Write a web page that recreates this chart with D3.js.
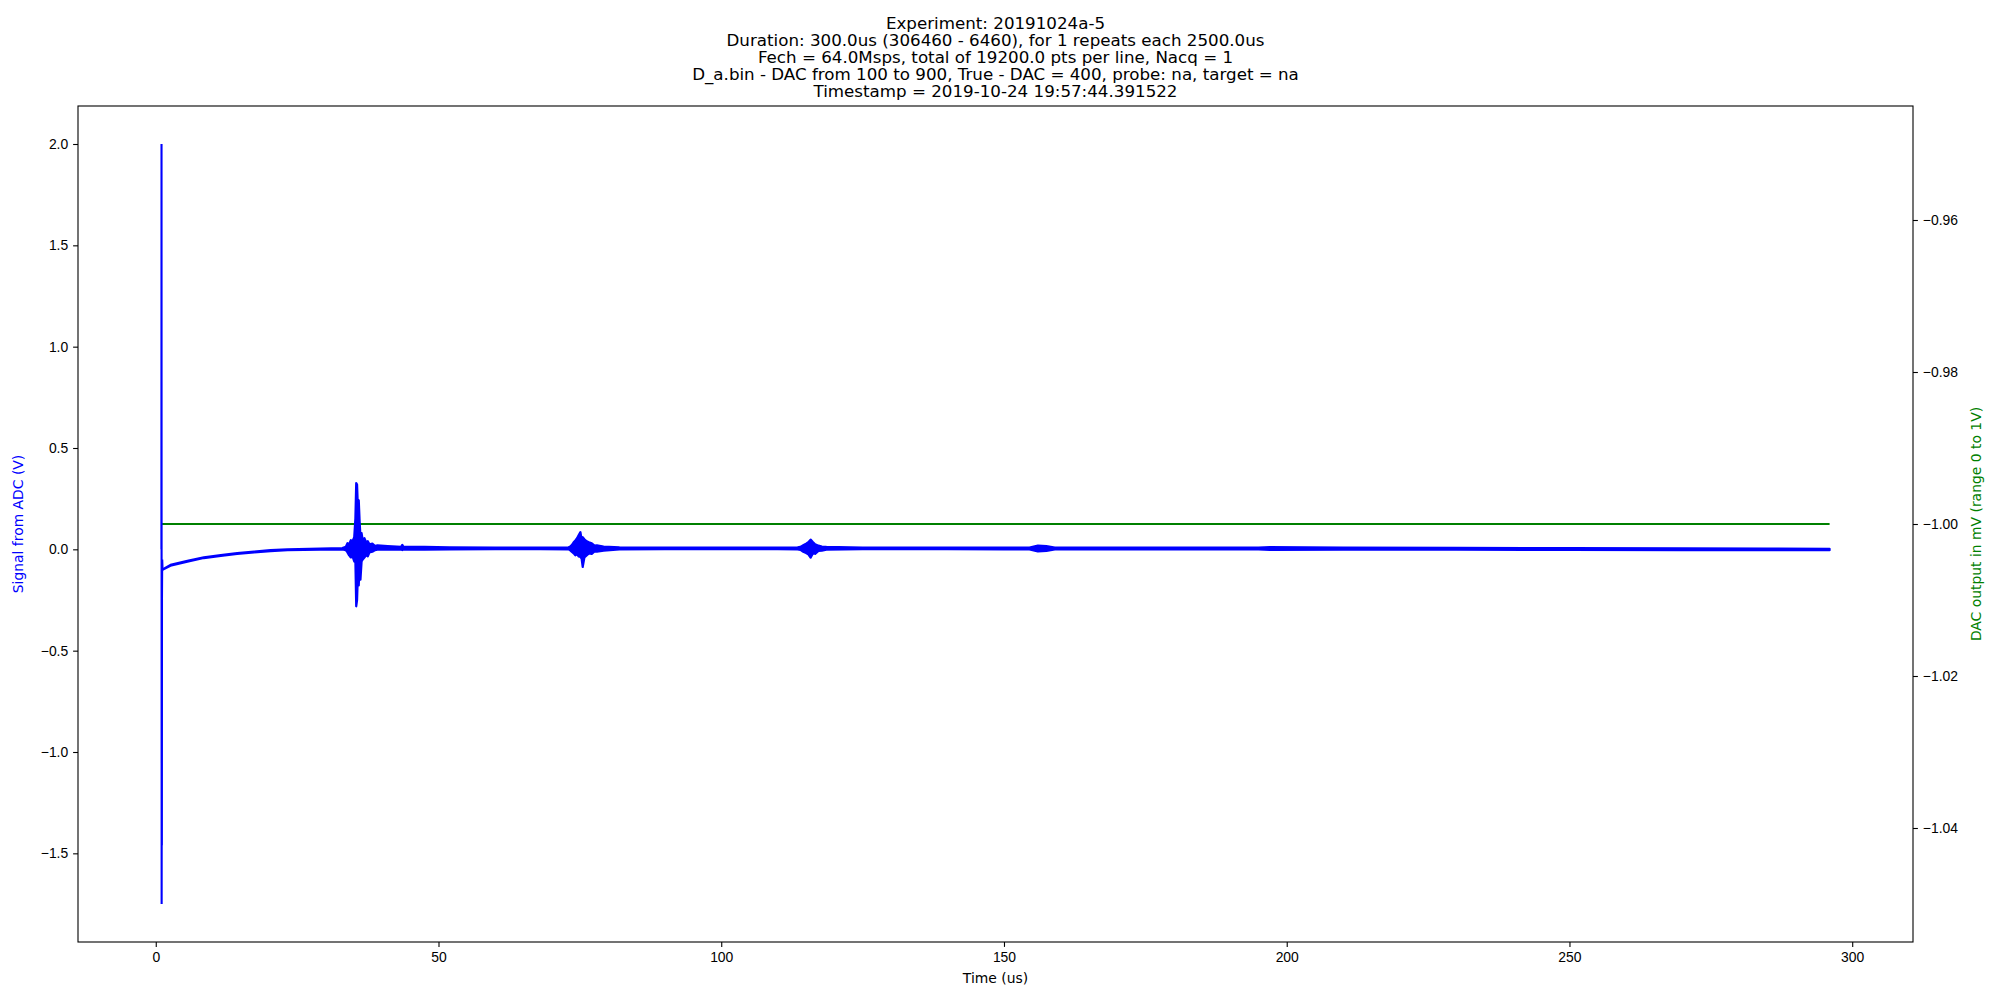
<!DOCTYPE html>
<meta charset="utf-8">
<head>
<style>
    body {
      margin: 0;
      background: #fff;
    }
    svg {
      font-family: 'DejaVu Sans', sans-serif;
      display: block;
    }
    .axis path, .axis line {
      stroke: #000;
      stroke-width: 1.1px;
    }
    .axis text {
      font-size: 13.9px;
      fill: #000;
    }
</style>
</head>
<body>
<svg width="2000" height="1000"></svg>
<script src="https://d3js.org/d3.v7.min.js"></script>
<script>

// title, one entry per line
var titleLines = [
  "Experiment: 20191024a-5",
  "Duration: 300.0us (306460 - 6460), for 1 repeats each 2500.0us",
  "Fech = 64.0Msps, total of 19200.0 pts per line, Nacq = 1",
  "D_a.bin - DAC from 100 to 900, True - DAC = 400, probe: na, target = na",
  "Timestamp = 2019-10-24 19:57:44.391522"
];

var xTicks = [0, 50, 100, 150, 200, 250, 300];
var yTicks = [-1.5, -1.0, -0.5, 0.0, 0.5, 1.0, 1.5, 2.0];
var dacTicks = [-1.04, -1.02, -1.00, -0.98, -0.96];

// the first ringing of the ADC signal, right at t ~ 1us
var spikeT = [1.00, 1.02, 1.04, 1.06, 1.08, 1.10, 1.14, 1.20];
var spikeV = [0.00, 2.00, -1.75, -1.02, -1.46, -0.24, -0.05, -0.10];

// rest of the trace, read as a min / max envelope (the trace is too dense to see single points)
var sigT  = [1.2, 2.6, 5.6, 8.5, 11.5, 14.4, 17.4, 20.3, 23.3, 29.1, 33.0,
             33.6, 33.9, 34.2, 34.5, 34.8, 35.1, 35.3, 35.45, 35.6, 35.75, 35.9, 36.05, 36.2,
             36.4, 36.6, 36.9, 37.2, 37.5, 37.8, 38.3, 38.8, 39.2,
             41.0, 43.4, 43.6, 43.8, 47.5, 52, 60, 68,
             73.0, 73.3, 73.6, 73.9, 74.2, 74.5, 74.8, 75.1, 75.3, 75.5, 75.8, 76.2, 76.6,
             77.1, 77.6, 78.0, 79.2,
             82, 90, 100, 110,
             113.5, 114.0, 114.5, 115.0, 115.4, 115.8, 116.2, 116.6, 117.2, 117.8, 118.6,
             125, 140, 150, 154.5, 156, 157.5, 159, 170, 185, 195, 197,
             210, 230, 250, 270, 285, 296];
var sigLo = [-0.101, -0.081, -0.061, -0.043, -0.032, -0.023, -0.015, -0.009, -0.004, -0.001, 0.000,
             -0.004, -0.015, -0.030, -0.040, -0.035, -0.060, -0.055, -0.281, -0.250, -0.120, -0.178, -0.060, -0.150,
             -0.060, -0.050, -0.040, -0.030, -0.035, -0.015, -0.012, -0.004, -0.002,
             -0.002, -0.001, -0.004, -0.001, -0.001, 0.000, 0.001, 0.001,
             0.000, -0.005, -0.013, -0.020, -0.030, -0.025, -0.035, -0.038, -0.045, -0.087, -0.040, -0.030, -0.020,
             -0.022, -0.010, -0.012, -0.006,
             0.000, 0.001, 0.001, 0.001,
             0.000, -0.003, -0.012, -0.018, -0.025, -0.041, -0.020, -0.022, -0.008, -0.006, -0.002,
             0.001, 0.001, 0.000, 0.000, -0.010, -0.008, 0.000, 0.000, 0.000, 0.000, -0.003,
             -0.001, -0.002, -0.003, -0.004, -0.004, -0.004];
var sigHi = [-0.099, -0.077, -0.057, -0.039, -0.028, -0.019, -0.011, -0.004, 0.000, 0.004, 0.006,
             0.012, 0.030, 0.025, 0.045, 0.040, 0.060, 0.150, 0.327, 0.320, 0.200, 0.242, 0.140, 0.060,
             0.080, 0.045, 0.055, 0.035, 0.040, 0.025, 0.028, 0.016, 0.020,
             0.016, 0.012, 0.022, 0.012, 0.012, 0.010, 0.009, 0.009,
             0.010, 0.014, 0.022, 0.035, 0.044, 0.055, 0.070, 0.085, 0.050, 0.060, 0.050, 0.040, 0.035,
             0.030, 0.018, 0.020, 0.014,
             0.010, 0.009, 0.009, 0.009,
             0.010, 0.012, 0.020, 0.028, 0.035, 0.048, 0.036, 0.025, 0.018, 0.014, 0.012,
             0.008, 0.008, 0.008, 0.009, 0.018, 0.016, 0.009, 0.008, 0.008, 0.008, 0.011,
             0.008, 0.007, 0.006, 0.005, 0.004, 0.003];

// DAC output (right axis), constant
var dacT = [1.0, 296.0];
var dacV = [-1.0, -1.0];

var svg = d3.select('svg'),
    plotL = 78, plotR = 1913, plotT = 106, plotB = 942;

var x = d3.scaleLinear().domain([-13.75, 310.75]).range([plotL, plotR]);
var y = d3.scaleLinear().domain([-1.9375, 2.1875]).range([plotB, plotT]);
var y2 = d3.scaleLinear().domain([-1.055, -0.945]).range([plotB, plotT]);

var minus = function(s) { return s.replace('-', '\u2212'); };

// traces
var plot = svg.append('g');

var sig = sigT.map(function(t, i) { return {t: t, lo: sigLo[i], hi: sigHi[i]}; });

// DAC line sits under the ADC trace
plot.append('path')
  .datum(dacT.map(function(t, i) { return [t, dacV[i]]; }))
  .attr('fill', 'none')
  .attr('stroke', '#008000')
  .attr('stroke-width', 2.1)
  .attr('d', d3.line().x(d => x(d[0])).y(d => y2(d[1])));

plot.append('path')
  .datum(sig)
  .attr('fill', '#0000ff')
  .attr('stroke', '#0000ff')
  .attr('stroke-width', 2.2)
  .attr('stroke-linejoin', 'round')
  .attr('d', d3.area().x(d => x(d.t)).y0(d => y(d.lo)).y1(d => y(d.hi)));

plot.append('path')
  .datum(spikeT.map(function(t, i) { return [t, spikeV[i]]; }))
  .attr('fill', 'none')
  .attr('stroke', '#0000ff')
  .attr('stroke-width', 2.1)
  .attr('d', d3.line().x(d => x(d[0])).y(d => y(d[1])));

// axes
svg.append('g')
  .attr('class', 'axis')
  .attr('transform', 'translate(0,' + plotB + ')')
  .call(d3.axisBottom(x).tickValues(xTicks).tickSize(4.9).tickPadding(4.9).tickSizeOuter(0)
        .tickFormat(d3.format('d')));

svg.append('g')
  .attr('class', 'axis')
  .attr('transform', 'translate(' + plotL + ',0)')
  .call(d3.axisLeft(y).tickValues(yTicks).tickSize(4.9).tickPadding(4.9).tickSizeOuter(0)
        .tickFormat(d => minus(d3.format('.1f')(d))));

svg.append('g')
  .attr('class', 'axis')
  .attr('transform', 'translate(' + plotR + ',0)')
  .call(d3.axisRight(y2).tickValues(dacTicks).tickSize(4.9).tickPadding(4.9).tickSizeOuter(0)
        .tickFormat(d => minus(d3.format('.2f')(d))));

svg.selectAll('.axis .domain').remove();

// frame
svg.append('rect')
  .attr('x', plotL).attr('y', plotT)
  .attr('width', plotR - plotL).attr('height', plotB - plotT)
  .attr('fill', 'none')
  .attr('stroke', '#000')
  .attr('stroke-width', 1.1);

// labels
svg.append('text')
  .attr('x', (plotL + plotR) / 2).attr('y', 983)
  .attr('text-anchor', 'middle')
  .style('font-size', '13.9px')
  .text('Time (us)');

svg.append('text')
  .attr('transform', 'translate(23,' + (plotT + plotB) / 2 + ') rotate(-90)')
  .attr('text-anchor', 'middle')
  .style('font-size', '13.9px')
  .attr('fill', '#0000ff')
  .text('Signal from ADC (V)');

svg.append('text')
  .attr('transform', 'translate(1981,' + (plotT + plotB) / 2 + ') rotate(-90)')
  .attr('text-anchor', 'middle')
  .style('font-size', '13.9px')
  .attr('fill', '#008000')
  .text('DAC output in mV (range 0 to 1V)');

svg.append('g')
  .selectAll('text')
  .data(titleLines)
  .enter().append('text')
    .attr('x', (plotL + plotR) / 2)
    .attr('y', (d, i) => 28.5 + i * 17.1)
    .attr('text-anchor', 'middle')
    .style('font-size', '16.7px')
    .text(d => d);

</script>
</body>
